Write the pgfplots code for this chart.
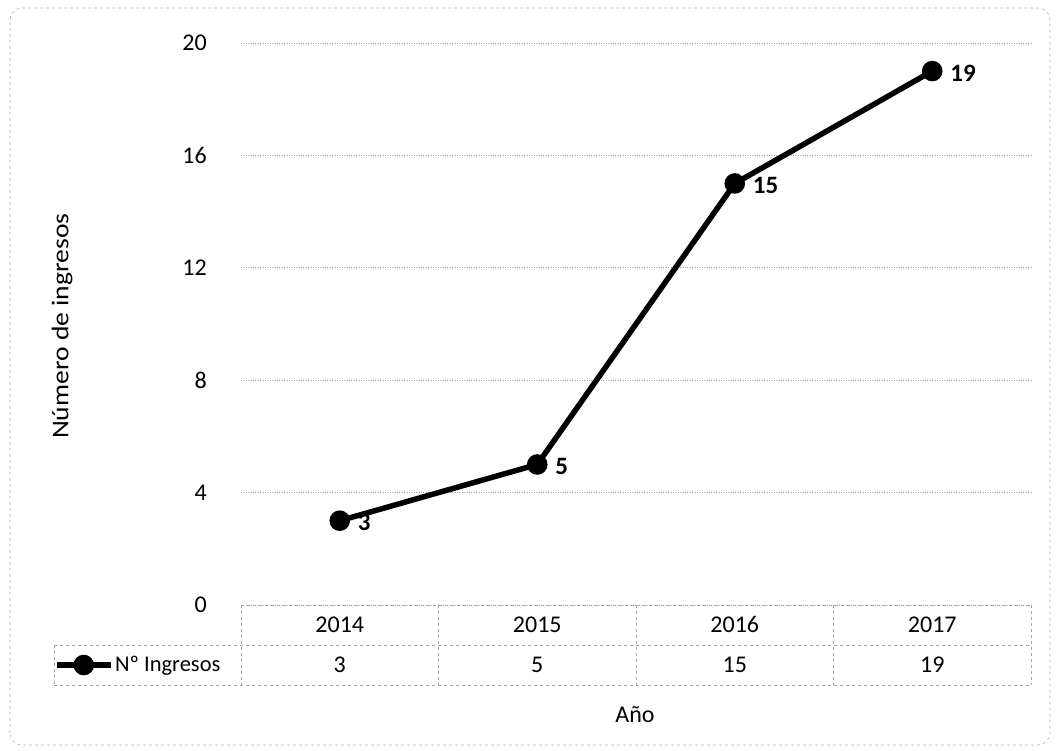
\documentclass[border=0pt]{standalone}
\usepackage{pgfplots}
\pgfplotsset{compat=1.18}
\usepackage{fontspec}
\setmainfont{Carlito}
\newcommand{\fs}{\fontsize{24}{28}\selectfont}
\newcommand{\fl}{\fontsize{22.5}{26}\selectfont}
\newcommand{\fb}{\fontsize{25}{29}\selectfont\bfseries}
\pgfplotsset{every axis plot/.append style={legend image code/.code={\draw[#1, mark repeat=2, mark phase=2] plot coordinates {(0pt,0pt) (27pt,0pt) (54pt,0pt)};}}}
\begin{document}
\begin{tikzpicture}
\useasboundingbox (0pt,0pt) rectangle (1056pt,751pt);
\draw[gray!60, dashed, rounded corners=12pt, line width=0.6pt] (10pt,6pt) rectangle (1050pt,743pt);
\begin{axis}[
  at={(241pt,146pt)}, anchor=south west,
  scale only axis, width=790pt, height=562pt,
  xmin=-0.5, xmax=3.5, ymin=0, ymax=20,
  ytick={0,4,8,12,16,20},
  xtick=\empty,
  axis line style={draw=none},
  major tick length=0pt,
  ymajorgrids,
  grid style={gray!75, dotted, line width=0.8pt},
  /pgf/number format/assume math mode=true,
  yticklabel style={font=\fs, anchor=east, inner sep=0pt, xshift=-34pt},
  clip=false,
  legend style={at={(-0.2367,-0.1068)}, anchor=west, draw=none, fill=none,
    font=\fl, inner sep=0pt, outer sep=0pt, nodes={inner sep=1.5pt},
    /tikz/every even column/.append style={column sep=0pt}},
  legend cell align=left,
]
\addplot[black, line width=5.5pt, mark=*, mark size=7.5pt,
  nodes near coords, point meta=explicit symbolic,
  every node near coord/.append style={font=\fb, anchor=west, xshift=12pt, yshift=-2pt}
] table[meta=v] {
x y v
0 3 3
1 5 5
2 15 15
3 19 19
};
\addlegendentry{Nº Ingresos}
% data table grid
\draw[gray!70, dashed, line width=0.6pt] (axis cs:-0.5,0) -- (axis cs:3.5,0);
\draw[gray!70, dashed, line width=0.6pt] (axis cs:-1.447,-1.4235) -- (axis cs:3.5,-1.4235);
\draw[gray!70, dashed, line width=0.6pt] (axis cs:-1.447,-2.847) -- (axis cs:3.5,-2.847);
\draw[gray!70, dashed, line width=0.6pt] (axis cs:-1.447,-1.4235) -- (axis cs:-1.447,-2.847);
\draw[gray!70, dashed, line width=0.6pt] (axis cs:-0.5,0) -- (axis cs:-0.5,-2.847);
\draw[gray!70, dashed, line width=0.6pt] (axis cs:0.5,0) -- (axis cs:0.5,-2.847);
\draw[gray!70, dashed, line width=0.6pt] (axis cs:1.5,0) -- (axis cs:1.5,-2.847);
\draw[gray!70, dashed, line width=0.6pt] (axis cs:2.5,0) -- (axis cs:2.5,-2.847);
\draw[gray!70, dashed, line width=0.6pt] (axis cs:3.5,0) -- (axis cs:3.5,-2.847);
\node[font=\fs] at (axis cs:0,-0.71) {2014};
\node[font=\fs] at (axis cs:1,-0.71) {2015};
\node[font=\fs] at (axis cs:2,-0.71) {2016};
\node[font=\fs] at (axis cs:3,-0.71) {2017};
\node[font=\fs] at (axis cs:0,-2.135) {3};
\node[font=\fs] at (axis cs:1,-2.135) {5};
\node[font=\fs] at (axis cs:2,-2.135) {15};
\node[font=\fs] at (axis cs:3,-2.135) {19};
\node[font=\fs] at (rel axis cs:0.4987,-0.1957) {Año};
\node[font=\fs, rotate=90] at (rel axis cs:-0.2266,0.496) {\scalebox{1.15}[1]{Número de ingresos}};
\end{axis}
\end{tikzpicture}
\end{document}
